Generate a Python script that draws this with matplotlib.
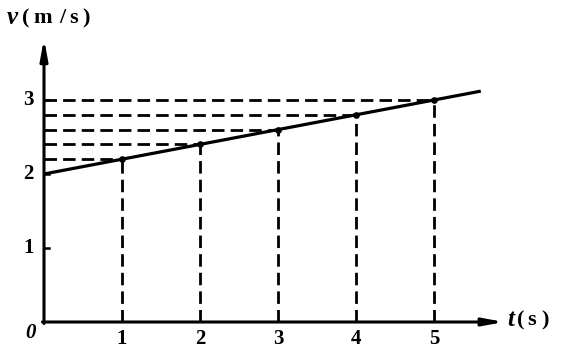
import numpy as np
import matplotlib

matplotlib.use("Agg")
import matplotlib.pyplot as plt

# data
t_points = [1, 2, 3, 4, 5]
v_points = [2.2, 2.4, 2.6, 2.8, 3.0]
line_t = [0, 5.6]
line_v = [2.0, 3.12]
x_ticks = [1, 2, 3, 4, 5]
y_ticks = [1, 2, 3]

plt.rcParams["font.family"] = ["Liberation Serif", "DejaVu Serif"]
plt.rcParams["font.weight"] = "bold"

W, H = 562, 351
fig = plt.figure(figsize=(W / 100, H / 100), dpi=100)
# origin at pixel (44, 322); 78 px per second, 74 px per m/s
x0, y0 = 44, 322
px_t, px_v = 78.0, 74.0
right, top = 520, 8
ax = fig.add_axes([x0 / W, (H - y0) / H, (right - x0) / W, (y0 - top) / H])
ax.set_xlim(0, (right - x0) / px_t)
ax.set_ylim(0, (y0 - top) / px_v)
ax.axis("off")

fs = 15
dash = (0, (4.5, 2.2))

# axes with arrows
arrow = dict(arrowstyle="-|>,head_length=1.2,head_width=0.22",
             lw=2.2, color="black", shrinkA=0, shrinkB=0)
ax.annotate("", xy=(5.9, 0), xytext=(-0.02, 0), arrowprops=arrow)
ax.annotate("", xy=(0, 3.83), xytext=(0, -0.02), arrowprops=arrow)

# dashed guide lines
for t, v in zip(t_points, v_points):
    ax.plot([0, t], [v, v], color="black", lw=2.0, linestyle=dash)
    ax.plot([t, t], [0, v], color="black", lw=2.0, linestyle=dash)

# v-t line and points
ax.plot(line_t, line_v, color="black", lw=2.3, solid_capstyle="butt")
ax.plot(t_points, v_points, "o", color="black", ms=3.8)

# tick marks and labels
for t in x_ticks:
    ax.text(t, -0.1, str(t), ha="center", va="top", fontsize=fs)
for v in y_ticks:
    ax.plot([0, 0.07], [v, v], color="black", lw=1.8)
    ax.text(-0.13, v, str(v), ha="right", va="center", fontsize=fs)
ax.text(-0.1, -0.02, "0", ha="right", va="top", fontsize=fs, style="italic")


def spaced(chars, xs, y):
    # place characters one by one to copy the wide letter spacing
    for i, (c, x) in enumerate(zip(chars, xs)):
        style = "italic" if i == 0 else "normal"
        size = fs + 3 if i == 0 else fs + 1
        fig.text(x / W, 1 - y / H, c, ha="center", va="center",
                 fontsize=size, style=style)


spaced(["v", "(", "m", "/", "s", ")"], [12, 26, 43, 62, 74, 86], 18)
spaced(["t", "(", "s", ")"], [511, 521, 532, 545], 320)

fig.savefig("out.png", dpi=100)
